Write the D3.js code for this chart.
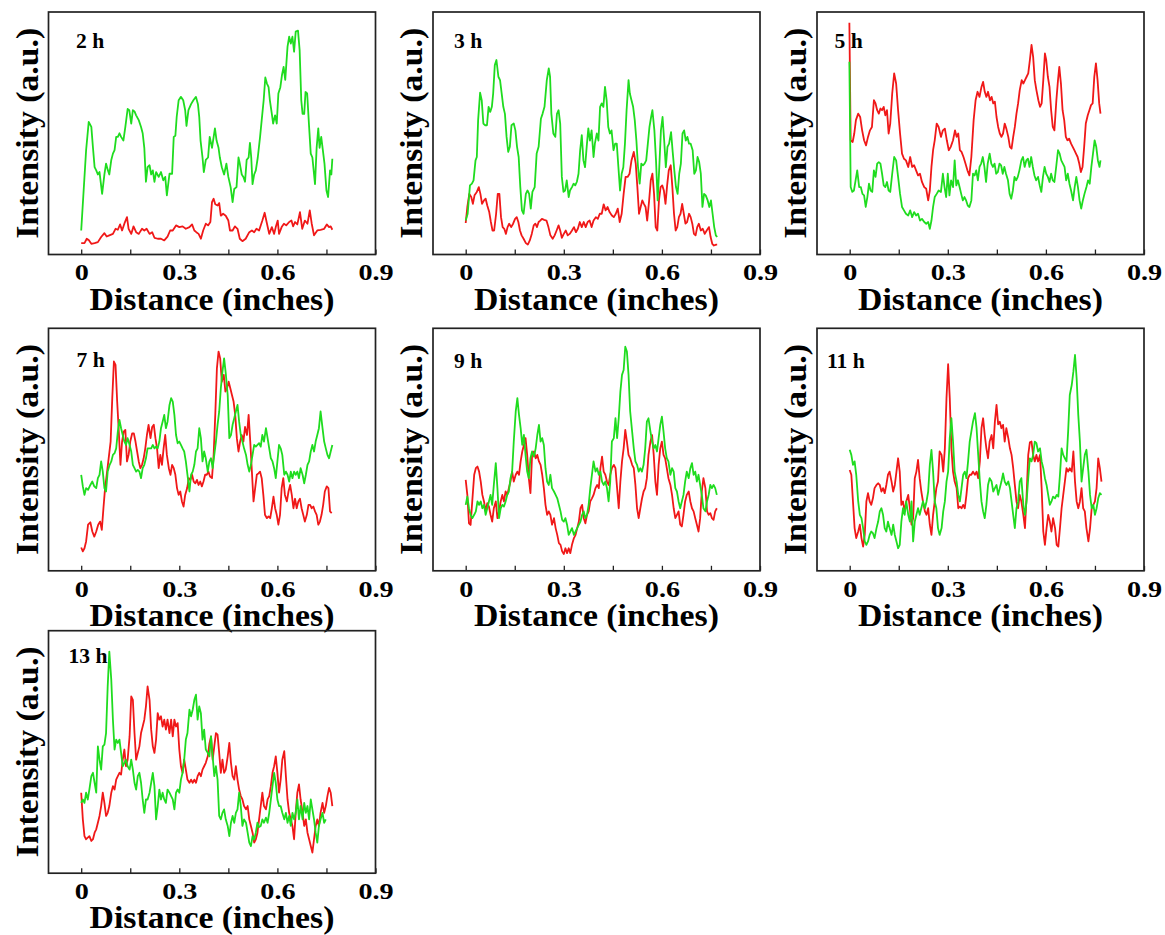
<!DOCTYPE html>
<html><head><meta charset="utf-8">
<script src="https://cdn.jsdelivr.net/npm/d3@7"></script>
<style>
html,body{margin:0;padding:0;background:#fff;}
svg text{font-family:"Liberation Serif","Times New Roman",serif;font-weight:bold;fill:#000;}
</style></head><body>
<svg id="chart" width="1165" height="935"></svg>
<script>
// Line-scan intensity profiles along the sample (distance in inches, intensity in a.u.)
const panelLabels = ["2 h", "3 h", "5 h", "7 h", "9 h", "11 h", "13 h"];
const xTickValues = [0, 0.3, 0.6, 0.9];
const xTickLabels = ["0", "0.3", "0.6", "0.9"];
const xMinorTicks = [0.15, 0.45, 0.75];
const xTitle = "Distance (inches)";
const yTitle = "Intensity (a.u.)";

const green2h = [[0,9.9],[.015,43],[.023,54.7],[.031,52.6],[.036,44],[.041,36],[.046,34.7],[.051,33],[.056,34],[.064,25],[.071,33],[.076,37.5],[.081,35],[.086,33],[.092,39],[.097,41.6],[.102,43],[.107,48.5],[.112,48.5],[.117,50],[.122,48.5],[.129,47],[.135,52.6],[.142,60],[.147,59.5],[.153,54],[.158,59.5],[.163,59],[.168,57.4],[.176,55.4],[.183,52.6],[.188,50],[.193,44],[.198,30],[.203,36],[.209,36.8],[.214,33],[.219,34.7],[.224,30],[.229,34],[.237,32],[.244,34],[.251,30.6],[.257,32],[.262,24.4],[.27,33.3],[.278,33.3],[.283,48.5],[.288,49],[.292,56.7],[.298,63.6],[.305,65],[.312,63.6],[.318,59.5],[.322,53],[.328,59.5],[.336,62],[.343,63.6],[.351,65],[.357,62],[.361,56.7],[.365,47],[.371,40],[.375,34],[.381,39],[.388,40],[.393,48.5],[.4,44],[.409,52],[.414,47],[.42,44],[.424,40],[.43,36],[.437,33],[.444,37.5],[.45,32],[.457,27.8],[.463,21.6],[.468,27],[.475,27.8],[.481,40],[.485,37.5],[.491,33],[.496,32],[.501,30],[.506,39],[.512,40],[.516,46],[.52,40],[.524,29],[.529,33],[.534,34.7],[.54,40],[.547,48.5],[.552,55.4],[.558,63.6],[.563,73],[.568,70.5],[.573,69],[.577,63.6],[.583,58],[.587,54],[.593,57.4],[.598,54],[.603,66.4],[.609,69],[.614,74],[.619,77.4],[.624,72],[.631,85.7],[.636,89.8],[.641,87],[.646,89.8],[.651,83.6],[.656,91.9],[.663,92.3],[.668,84.3],[.673,63.6],[.677,58],[.682,58],[.686,67],[.691,66.4],[.697,52.6],[.702,41.6],[.707,40],[.715,29],[.72,44],[.725,52],[.729,44],[.734,48.5],[.739,43],[.744,37.5],[.75,26.4],[.755,23.7],[.761,34.7],[.765,33],[.768,39.5]];
const red2h = [[0,4.7],[.01,4.7],[.017,6.5],[.023,6],[.031,4.4],[.041,4.7],[.051,5.1],[.061,7.2],[.071,8.8],[.078,7.4],[.086,7.9],[.097,8.5],[.105,10.6],[.112,10.2],[.119,12.4],[.125,9.9],[.132,12.7],[.14,15.4],[.145,10.6],[.153,8.5],[.16,11.6],[.168,9.2],[.176,8.5],[.186,10.6],[.193,9.9],[.2,10.6],[.209,8.5],[.217,9.2],[.224,6.9],[.234,6.5],[.244,6.5],[.254,5.8],[.264,7.4],[.272,9.9],[.28,9.9],[.29,12],[.3,11.3],[.31,11.6],[.32,10.6],[.331,11.3],[.339,12.4],[.346,9.9],[.352,9.2],[.359,8.5],[.366,6.5],[.373,9.9],[.381,12.7],[.388,12],[.395,13.4],[.4,21.6],[.405,23],[.41,20.7],[.417,20.2],[.422,21.2],[.427,16],[.434,16.8],[.442,16],[.45,14],[.455,9.9],[.463,9.9],[.47,11.6],[.478,10.6],[.485,6.5],[.493,5.5],[.503,6.5],[.514,9.2],[.522,9.9],[.529,9.2],[.536,10.6],[.544,9.9],[.554,14],[.561,17.2],[.567,13.4],[.575,8.5],[.583,11.3],[.59,8.5],[.595,11.3],[.601,14],[.605,8.5],[.613,11.3],[.62,12.7],[.627,12],[.636,13.4],[.643,14],[.648,11.6],[.654,13.4],[.661,12.4],[.669,17.5],[.676,10.6],[.684,14],[.692,12.7],[.699,18.2],[.705,12.7],[.712,7.9],[.722,9.9],[.732,10.2],[.743,10.6],[.751,12.4],[.758,11.3],[.763,11.6],[.768,10.2]];

const green3h = [[0,14],[.006,16.8],[.013,28.5],[.019,29.2],[.024,30.6],[.03,38.8],[.034,40.2],[.038,55.4],[.044,66.7],[.049,63.6],[.054,54],[.059,53.3],[.065,53.3],[.07,60.9],[.075,58.8],[.08,60.9],[.084,66.4],[.089,78.1],[.094,80.2],[.1,73.3],[.105,71.9],[.11,66.4],[.115,60.9],[.12,58],[.125,48.5],[.13,42.3],[.135,44.4],[.14,53.3],[.147,54],[.152,51.2],[.157,44.4],[.162,40.2],[.167,27.8],[.172,18.2],[.177,16.8],[.184,25],[.189,26.4],[.194,25],[.199,18.9],[.204,25.8],[.211,27.8],[.217,41.6],[.223,44.4],[.23,56],[.235,58],[.241,60.9],[.248,71.9],[.254,76.7],[.258,73.3],[.262,58],[.268,49.9],[.274,48.5],[.279,58],[.284,59.5],[.289,54],[.294,32],[.299,25.8],[.304,26.4],[.309,30.6],[.315,23.7],[.319,26.4],[.325,27.8],[.33,29.2],[.335,28.5],[.34,30],[.345,33.3],[.35,43],[.355,49.2],[.36,38.8],[.365,36],[.37,44.4],[.375,52],[.38,47],[.385,51.2],[.391,40.2],[.395,45.7],[.401,49.9],[.406,47],[.411,60.9],[.416,62.3],[.421,60.9],[.426,69.1],[.431,63.6],[.436,52.6],[.441,49.9],[.446,51.2],[.452,43],[.457,45.7],[.462,45.7],[.467,36],[.472,26.4],[.477,33.3],[.482,36],[.487,45.7],[.492,59.5],[.498,71.9],[.502,66.4],[.507,63.6],[.512,60.9],[.517,55.4],[.522,47],[.527,36],[.532,29.2],[.537,37.5],[.542,36.8],[.547,37.5],[.552,38.8],[.557,45.7],[.562,52.6],[.567,56.7],[.571,59.5],[.577,51.2],[.582,38.8],[.587,22.3],[.592,36],[.597,51.2],[.602,56.7],[.607,47],[.612,36],[.617,44.4],[.622,45.7],[.628,50.5],[.633,42.3],[.638,34.7],[.643,27.8],[.648,25],[.653,33.3],[.658,37.5],[.663,49.9],[.668,51.2],[.673,47],[.678,48.5],[.683,45.7],[.688,45.7],[.694,43],[.699,33.3],[.704,34.7],[.709,40.2],[.714,38.1],[.719,33.3],[.724,19.6],[.729,25],[.734,24.4],[.74,22.3],[.745,19.6],[.75,22.3],[.755,16.8],[.76,11.3],[.765,7.9],[.769,7.2]];
const red3h = [[0,13],[.005,19.6],[.011,25],[.017,23.7],[.022,20.9],[.027,24.4],[.034,25.8],[.04,27.8],[.045,25],[.05,20.9],[.056,22.3],[.061,23],[.066,20.2],[.072,17.5],[.077,13.4],[.082,9.9],[.087,9.9],[.093,16.8],[.098,25],[.103,25],[.108,15.4],[.113,11.3],[.118,10.6],[.123,8.5],[.128,11.3],[.133,12.7],[.139,11.3],[.145,12.7],[.151,14.7],[.156,15.4],[.161,13.4],[.166,9.9],[.171,7.9],[.177,6.5],[.184,4.7],[.19,4.1],[.196,5.8],[.202,8.5],[.208,12],[.213,12.7],[.218,11.3],[.223,13.4],[.228,14],[.233,14.7],[.24,14.3],[.247,14],[.253,11.3],[.259,7.9],[.266,6.5],[.272,7.9],[.278,9.9],[.284,12],[.289,9.9],[.294,6.9],[.3,8.5],[.306,9.9],[.312,7.9],[.318,8.5],[.325,9.9],[.331,11.3],[.337,9.2],[.343,10.6],[.349,13.4],[.355,11.3],[.361,13.4],[.367,11.3],[.373,13.4],[.379,14],[.385,11.3],[.391,14],[.398,15.4],[.404,14.7],[.41,16.8],[.416,16.8],[.422,20.7],[.428,18.2],[.434,19.6],[.44,17.5],[.447,16.1],[.453,15.4],[.459,16.8],[.465,18.9],[.471,13.4],[.477,16.8],[.483,25],[.489,32],[.495,32],[.501,33.3],[.507,38.8],[.514,42.3],[.52,37.5],[.525,27.8],[.53,16.8],[.535,19.6],[.54,22.3],[.545,20.9],[.55,19.6],[.555,14],[.561,22.3],[.566,30.6],[.571,33.3],[.576,25],[.581,11.3],[.586,9.9],[.591,22.3],[.596,27.8],[.601,28.5],[.606,26.4],[.611,20.9],[.616,28.5],[.621,34.7],[.627,36.8],[.632,27.8],[.637,16.8],[.642,9.9],[.647,11.3],[.652,15.4],[.657,16.8],[.662,20.9],[.667,16.8],[.672,12.7],[.677,13.4],[.683,16.8],[.688,15.4],[.693,12.7],[.698,8.5],[.703,7.9],[.708,11.3],[.713,12.7],[.719,9.9],[.725,10.6],[.731,8.5],[.737,9.9],[.744,11.3],[.749,7.2],[.754,4.4],[.759,3.7],[.766,4.1],[.769,4.1]];

const green5h = [[-.001,79.5],[.003,27.8],[.008,25.8],[.013,26.4],[.018,30.6],[.023,34.7],[.029,27.8],[.034,27.8],[.039,25],[.044,24.4],[.049,19.6],[.054,23.7],[.059,29.2],[.064,26.4],[.069,25.8],[.074,34.7],[.079,32],[.084,37.5],[.089,38.1],[.094,37.5],[.099,33.3],[.104,28.5],[.109,27.8],[.114,29.9],[.119,26.4],[.124,25.8],[.13,33.3],[.136,40.2],[.142,38.8],[.148,32],[.154,25],[.16,19.6],[.166,18.2],[.172,16.8],[.179,16.1],[.185,18.2],[.191,15.4],[.197,17.5],[.203,16.1],[.209,16.8],[.215,14],[.221,14.7],[.228,13.4],[.234,12.7],[.24,13.4],[.245,10.6],[.25,14],[.255,19.6],[.26,23.7],[.266,25],[.272,26.4],[.279,25.8],[.285,33.3],[.29,27.8],[.295,23.7],[.3,33.3],[.305,24.4],[.31,30.6],[.316,27.8],[.321,38.8],[.326,28.5],[.331,30.6],[.336,27.8],[.341,25],[.346,22.3],[.351,23.7],[.356,22.3],[.361,20.2],[.366,19.6],[.372,22.3],[.377,33.3],[.382,32.6],[.387,34.7],[.392,30.6],[.397,36.1],[.402,37.5],[.407,40.2],[.412,36.1],[.417,29.9],[.422,37.5],[.428,41.6],[.433,37.5],[.438,36.1],[.443,37.5],[.448,33.3],[.453,34],[.458,37.5],[.463,36.8],[.468,33.3],[.473,36.1],[.478,33.3],[.484,30.6],[.489,25],[.494,23],[.499,26.4],[.504,32],[.509,30.6],[.514,32],[.519,34.7],[.525,38.8],[.53,40.2],[.535,36.1],[.54,38.8],[.545,39.5],[.55,36.1],[.555,40.2],[.56,36.1],[.565,32.6],[.57,30.6],[.576,32],[.581,28.5],[.586,25.8],[.591,32],[.596,36.1],[.601,33.3],[.606,32],[.611,29.9],[.616,33.3],[.621,30.6],[.626,29.9],[.632,36.8],[.637,43],[.642,41.6],[.647,38.8],[.652,37.5],[.657,36.1],[.662,30.6],[.667,33.3],[.672,29.2],[.677,26.4],[.683,22.3],[.688,27.8],[.693,32],[.698,27.8],[.703,22.3],[.708,18.9],[.713,22.3],[.718,25],[.724,27.8],[.729,30.6],[.734,29.2],[.739,36.1],[.744,41.6],[.749,47.1],[.754,44.4],[.759,38.8],[.764,36.1],[.767,38.8]];
const red5h = [[-.001,95.6],[.003,47.1],[.009,46.4],[.014,49.9],[.019,55.4],[.026,58.1],[.032,56.7],[.038,51.2],[.044,47.1],[.05,45],[.056,48.5],[.062,51.2],[.068,52.6],[.074,63.6],[.079,62.3],[.084,59.5],[.089,58.1],[.094,60.2],[.099,59.5],[.104,60.9],[.109,57.4],[.114,59.5],[.119,49.9],[.124,54],[.13,66.4],[.136,74.7],[.142,70.5],[.148,59.5],[.154,49.9],[.16,41.6],[.166,39.5],[.172,38.8],[.179,36.1],[.185,40.2],[.191,36.1],[.197,36.8],[.203,34.7],[.209,32.6],[.215,33.3],[.221,29.9],[.228,27.8],[.234,27.1],[.24,22.3],[.245,26.4],[.25,36.1],[.255,43],[.26,47.1],[.266,54],[.272,52.6],[.279,48.5],[.285,51.2],[.291,51.9],[.297,47.1],[.303,43],[.309,44.4],[.316,47.1],[.322,51.2],[.327,48.5],[.332,49.9],[.337,43],[.342,42.3],[.348,40.2],[.354,37.5],[.36,34.7],[.366,32.6],[.372,40.2],[.379,55.4],[.385,63.6],[.391,67.1],[.397,65],[.403,69.1],[.408,71.2],[.413,67.1],[.418,65],[.423,67.1],[.429,63.6],[.434,65],[.439,62.3],[.444,63],[.449,56.7],[.454,52.6],[.459,49.9],[.464,48.5],[.469,49.9],[.474,54],[.479,51.9],[.485,48.5],[.49,44.4],[.495,43.7],[.5,48.5],[.505,52.6],[.51,58.1],[.515,62.3],[.52,67.8],[.526,71.9],[.531,70.5],[.536,71.9],[.541,73.3],[.546,74.7],[.551,80.2],[.556,86.4],[.561,81.5],[.566,71.9],[.571,67.8],[.577,63.6],[.582,60.9],[.587,62.3],[.592,71.9],[.597,82.9],[.601,80.2],[.606,73.3],[.611,69.1],[.616,59.5],[.621,52.6],[.626,51.2],[.632,63.6],[.637,71.9],[.641,77.4],[.646,70.5],[.651,59.5],[.656,55.4],[.661,48.5],[.666,47.1],[.671,47.8],[.677,45.7],[.682,44.4],[.687,43],[.692,41.6],[.697,40.2],[.702,37.5],[.707,34],[.712,36.1],[.717,44.4],[.722,54],[.728,57.4],[.733,59.5],[.738,61.6],[.743,62.3],[.748,73.3],[.753,78.8],[.758,71.9],[.763,62.3],[.767,58.1]];

const red7h = [[0,9.6],[.005,8],[.01,9.3],[.015,12.1],[.021,19],[.028,20],[.034,16.2],[.04,14.1],[.046,16.2],[.052,19],[.058,20.3],[.063,16.9],[.068,25.8],[.073,34.1],[.078,39.6],[.084,46.4],[.09,53.3],[.095,71.2],[.1,86.3],[.105,84.9],[.11,69.8],[.115,57.4],[.12,43.7],[.125,53.3],[.13,57.4],[.135,58.1],[.14,45.1],[.145,47.8],[.15,53.3],[.156,56.7],[.161,56.7],[.166,53.3],[.171,49.2],[.176,45.1],[.181,42.3],[.186,43.7],[.191,46.4],[.196,50.5],[.201,56],[.206,60.2],[.212,54.7],[.217,59.3],[.222,60.2],[.227,54.7],[.232,50.5],[.237,42.3],[.242,47.8],[.247,43.7],[.252,50.5],[.257,56],[.262,47.8],[.268,42.3],[.273,39.6],[.278,43.7],[.283,42.3],[.288,39.6],[.293,34.1],[.298,31.3],[.303,32.7],[.308,28.6],[.313,26.5],[.318,31.3],[.324,34.1],[.329,38.2],[.334,37.5],[.339,39.6],[.344,36.8],[.349,36.1],[.354,37.5],[.359,35.4],[.364,36.8],[.369,34.8],[.374,36.8],[.379,39.6],[.384,39.6],[.389,40.9],[.394,38.9],[.4,38.2],[.405,47.8],[.41,64.3],[.415,83.5],[.42,90.4],[.425,87.6],[.43,78],[.436,80.8],[.441,73.9],[.446,75.3],[.451,78],[.456,75.3],[.461,72.5],[.466,69.8],[.471,64.3],[.476,54.7],[.481,49.2],[.486,53.3],[.491,56],[.496,53.3],[.501,59.3],[.507,56],[.512,64.3],[.517,53.3],[.522,40.9],[.527,28.6],[.532,34.1],[.537,39.6],[.542,40.2],[.547,40.9],[.552,38.2],[.557,31.3],[.562,23.1],[.568,21.7],[.573,22.4],[.578,21.7],[.583,25.8],[.588,30.6],[.593,25.8],[.598,23.1],[.603,19],[.608,23.1],[.613,34.1],[.618,38.2],[.623,31.3],[.629,28.6],[.634,32.7],[.639,35.4],[.644,31.3],[.649,25.8],[.654,29.7],[.659,25.8],[.664,28.6],[.669,29.7],[.674,25.8],[.679,23.1],[.684,20.3],[.69,23.1],[.695,27.2],[.7,27.2],[.705,25.8],[.71,26.5],[.715,24.5],[.72,23.1],[.725,19],[.73,20.3],[.735,23.1],[.74,27.2],[.745,32.7],[.751,34.8],[.756,34.1],[.761,24.5],[.766,23.8]];
const green7h = [[0,39.6],[.005,34.8],[.01,31.3],[.015,34.1],[.021,33.4],[.028,35.4],[.034,36.8],[.04,34.8],[.046,34.1],[.051,38.2],[.056,39.6],[.061,45.1],[.066,40.9],[.071,34.1],[.076,32.7],[.081,40.9],[.087,43.7],[.092,45.1],[.097,47.8],[.102,48.5],[.107,50.5],[.112,57.4],[.117,62.2],[.122,58.8],[.127,56],[.132,53.3],[.137,51.9],[.142,54.7],[.148,51.9],[.153,49.2],[.158,43.7],[.163,42.3],[.168,40.9],[.173,41.6],[.178,40.9],[.183,38.2],[.188,42.3],[.193,43.7],[.198,46.4],[.203,50.5],[.209,50.5],[.214,50.5],[.219,51.9],[.224,50.5],[.229,51.2],[.234,50.5],[.239,53.3],[.244,58.8],[.249,61.5],[.254,64.3],[.259,58.8],[.264,61.5],[.27,68.4],[.275,71.2],[.28,69.8],[.285,64.3],[.29,56],[.295,52.6],[.3,53.3],[.305,51.9],[.31,50.5],[.315,49.2],[.32,45.1],[.325,39.6],[.331,32.7],[.336,39.6],[.341,40.9],[.346,43.7],[.351,49.2],[.356,50.5],[.361,58.8],[.366,54.7],[.371,45.1],[.376,49.2],[.381,46.4],[.387,40.9],[.392,45.1],[.397,46.4],[.402,42.3],[.407,47.8],[.412,53.3],[.417,60.2],[.422,65.7],[.427,75.3],[.432,82.1],[.437,87.6],[.442,81.5],[.448,72.5],[.453,54.7],[.458,56],[.463,60.2],[.468,62.9],[.473,65.7],[.478,68.4],[.483,61.5],[.488,56],[.493,53.3],[.498,50.5],[.504,47.8],[.509,43.7],[.514,40.9],[.519,43.7],[.524,47.8],[.529,51.9],[.534,51.2],[.539,51.9],[.544,52.6],[.549,51.2],[.554,56],[.559,53.3],[.565,58.8],[.57,54.7],[.575,50.5],[.58,46.4],[.585,45.1],[.59,42.3],[.595,38.2],[.6,45.1],[.605,51.9],[.61,50.5],[.615,47.8],[.621,39.6],[.626,40.9],[.631,39.6],[.636,36.8],[.641,40.9],[.646,38.2],[.651,40.9],[.656,39.6],[.661,40.9],[.666,38.2],[.671,42.3],[.677,39.6],[.682,36.1],[.687,39.6],[.692,43.7],[.697,45.1],[.702,49.2],[.707,51.9],[.712,49.2],[.717,53.3],[.722,56],[.727,58.8],[.732,65.7],[.738,58.8],[.743,53.3],[.748,50.5],[.753,47.8],[.758,46.4],[.763,49.2],[.768,51.9]];

const red9h = [[0,37.5],[.005,31.3],[.01,19.6],[.015,18.9],[.02,28.6],[.026,39.6],[.031,42.3],[.036,43],[.041,40.9],[.046,36.8],[.051,31.3],[.056,28.6],[.061,24.5],[.066,27.9],[.071,26.5],[.076,23.1],[.081,20.3],[.086,25.8],[.092,28.6],[.097,21.7],[.102,24.5],[.107,28.6],[.112,31.3],[.117,28.6],[.122,32.7],[.127,31.3],[.132,34.1],[.137,36.8],[.142,40.9],[.147,36.8],[.153,39.6],[.158,40.9],[.163,39.6],[.168,45.1],[.173,49.2],[.178,51.9],[.183,54.7],[.188,47.8],[.193,38.2],[.198,32],[.203,47.8],[.209,49.2],[.214,46.4],[.219,47.8],[.224,45.1],[.229,43.7],[.234,39.6],[.239,34.1],[.244,27.2],[.249,23.1],[.254,24.5],[.259,23.1],[.264,19],[.27,21.7],[.275,17.6],[.28,14.8],[.285,11.4],[.29,10.7],[.295,8],[.3,6.9],[.305,9.3],[.31,7.3],[.315,9.3],[.32,7.3],[.325,10.7],[.331,13.5],[.336,14.8],[.341,17.6],[.346,20.3],[.351,25.8],[.356,27.2],[.361,21.7],[.366,19.6],[.371,23.1],[.376,24.5],[.381,28.6],[.386,29.9],[.391,31.3],[.397,34.1],[.402,35.4],[.407,34.1],[.412,42.3],[.417,47.1],[.422,40.9],[.427,39.6],[.432,36.8],[.437,35.4],[.442,39.6],[.447,42.3],[.453,43.7],[.458,42.3],[.463,34.1],[.468,25.8],[.473,36.8],[.478,45.1],[.483,50.5],[.488,58.1],[.493,53.3],[.498,47.8],[.503,46.4],[.509,43.7],[.514,42.3],[.519,35.4],[.524,25.8],[.529,21.7],[.534,25.8],[.539,29.7],[.544,32.7],[.549,34.1],[.554,38.2],[.559,47.8],[.565,53.3],[.57,56],[.575,47.8],[.58,36.8],[.585,31.3],[.59,43.7],[.595,50.5],[.6,53.3],[.605,47.8],[.61,46.4],[.615,42.3],[.62,38.2],[.626,35.4],[.631,31.3],[.636,25.8],[.641,21.7],[.646,23.1],[.651,24.5],[.656,19],[.661,18.3],[.666,23.1],[.671,28.6],[.676,31.3],[.682,32.7],[.687,28.6],[.692,25.8],[.697,24.5],[.702,21.7],[.707,19],[.712,16.2],[.717,21.7],[.722,32.7],[.727,38.2],[.733,34.1],[.738,24.5],[.743,23.1],[.748,23.8],[.753,21.7],[.758,21],[.763,24.5],[.768,25.8]];
const green9h = [[0,27.2],[.005,30.6],[.01,25.8],[.015,23.1],[.02,21.7],[.026,23.1],[.031,24.5],[.036,28.6],[.041,27.2],[.046,28.6],[.051,25.8],[.056,27.2],[.061,23.1],[.066,25.8],[.071,28.6],[.076,31.3],[.081,27.2],[.086,35.4],[.092,44.4],[.097,34.1],[.102,21.7],[.107,25.8],[.112,27.2],[.117,26.5],[.122,28.6],[.127,31.3],[.132,32.7],[.137,38.2],[.142,40.9],[.147,53.3],[.153,65.7],[.158,71.2],[.163,64.3],[.168,58.8],[.173,51.9],[.178,56],[.183,47.8],[.188,40.9],[.193,38.2],[.198,46.4],[.203,49.2],[.209,47.1],[.214,50.5],[.219,56],[.224,60.2],[.229,53.3],[.234,54.7],[.239,51.9],[.244,42.3],[.249,36.8],[.254,35.4],[.259,39.6],[.264,34.1],[.27,32.7],[.275,31.3],[.28,29.9],[.285,27.2],[.29,24.5],[.295,21],[.3,20.3],[.305,21.7],[.31,19],[.315,14.8],[.32,16.2],[.325,17.6],[.331,14.8],[.336,16.2],[.341,17.6],[.346,19],[.351,20.3],[.356,23.1],[.361,24.5],[.366,21.7],[.371,23.1],[.376,27.2],[.381,34.1],[.386,39.6],[.391,45.1],[.397,40.9],[.402,42.3],[.407,39.6],[.412,40.9],[.417,36.8],[.422,35.4],[.427,36.8],[.432,34.1],[.437,28.6],[.442,36.8],[.447,53.3],[.453,54.7],[.458,62.9],[.463,54.7],[.468,62.9],[.473,73.9],[.478,80.8],[.483,82.8],[.488,92.4],[.493,90.4],[.498,80.8],[.503,65.7],[.509,57.4],[.514,50.5],[.519,45.1],[.524,43.7],[.529,40.9],[.534,42.3],[.539,40.9],[.544,43.7],[.549,50.5],[.554,61.5],[.559,62.9],[.565,57.4],[.57,53.3],[.575,50.5],[.58,51.9],[.585,49.2],[.59,54.7],[.595,60.2],[.6,63.6],[.605,57.4],[.61,50.5],[.615,46.4],[.62,45.1],[.626,39.6],[.631,42.3],[.636,40.9],[.641,34.1],[.646,32.7],[.651,28.6],[.656,25.8],[.661,28.6],[.666,31.3],[.671,36.8],[.676,40.9],[.682,38.2],[.687,42.3],[.692,44.4],[.697,39.6],[.702,40.9],[.707,36.8],[.712,39.6],[.717,35.4],[.722,31.3],[.727,25.8],[.733,24.5],[.738,28.6],[.743,31.3],[.748,35.4],[.753,34.1],[.758,35.4],[.763,34.1],[.768,31.3]];

const red11h = [[0,41.6],[.005,39.6],[.01,28.6],[.015,17.6],[.02,13.5],[.026,16.2],[.031,19],[.036,13.5],[.041,10],[.046,14.8],[.051,28.6],[.056,32],[.061,28.6],[.066,27.2],[.071,29.9],[.076,34.1],[.082,35.4],[.087,36.1],[.092,35.4],[.097,32.7],[.102,34.1],[.107,32],[.112,35.4],[.117,39.6],[.122,40.9],[.128,36.8],[.133,32.7],[.138,35.4],[.143,40.9],[.148,46.4],[.153,40.9],[.158,27.2],[.163,28.6],[.168,24.5],[.173,28.6],[.179,31.3],[.184,25.8],[.189,19],[.194,21.7],[.199,38.2],[.204,40.9],[.209,45.7],[.214,38.2],[.219,32.7],[.224,28.6],[.23,24.5],[.235,23.1],[.24,25.8],[.245,19],[.25,14.8],[.255,23.1],[.26,28.6],[.265,34.1],[.27,36.8],[.275,49.2],[.281,47.8],[.286,40.9],[.291,50.5],[.296,71.2],[.301,85.2],[.306,71.2],[.311,50.5],[.316,40.9],[.321,36.8],[.327,34.1],[.332,25.8],[.337,26.5],[.342,25.8],[.347,27.2],[.352,25.8],[.357,31.3],[.362,38.2],[.367,39.6],[.372,39.6],[.377,40.9],[.383,39.6],[.388,40.9],[.393,38.2],[.398,45.1],[.403,58.8],[.408,62.9],[.413,56],[.418,50.5],[.423,46.4],[.428,53.3],[.434,56],[.439,50.5],[.444,61.5],[.449,68.4],[.454,60.4],[.459,61.5],[.464,58.8],[.469,60.2],[.474,53.3],[.479,58.8],[.485,54.7],[.49,50.5],[.495,47.8],[.5,42.3],[.505,35.4],[.51,28.6],[.515,25.8],[.52,31.3],[.525,28.6],[.531,23.1],[.536,17.6],[.541,31.3],[.546,47.8],[.551,53],[.556,53.3],[.561,47.8],[.566,45.1],[.571,47.8],[.576,45.1],[.582,47.8],[.587,34.1],[.592,16.2],[.597,10.7],[.602,17.6],[.607,23.1],[.612,20.3],[.617,16.2],[.622,21.7],[.628,17.6],[.633,10.7],[.638,10],[.643,17.6],[.648,25.8],[.653,31.3],[.658,36.8],[.663,42.3],[.668,40.9],[.673,42.3],[.679,40.9],[.684,49.2],[.689,36.8],[.694,28.6],[.699,25.8],[.704,28.6],[.709,34.1],[.714,25.8],[.719,24.5],[.724,17.6],[.73,12.1],[.735,17.6],[.74,25.8],[.745,27.2],[.75,28.6],[.755,34.1],[.76,46.4],[.765,42.3],[.77,36.8]];
const green11h = [[0,49.9],[.005,47.8],[.01,43.7],[.015,45.1],[.02,39.6],[.026,28.6],[.031,23.1],[.036,21.7],[.041,17.6],[.046,12.1],[.051,10.7],[.056,12.1],[.061,14.8],[.066,16.2],[.071,15.5],[.076,13.5],[.082,17.6],[.087,20.3],[.092,24.5],[.097,25.8],[.102,23.1],[.107,17.6],[.112,16.2],[.117,20.3],[.122,17.6],[.128,14.8],[.133,19],[.138,14.8],[.143,12.1],[.148,9.3],[.153,10.7],[.158,20.3],[.163,25.8],[.168,23.1],[.173,28.6],[.179,23.1],[.184,20.3],[.189,28.6],[.194,12.1],[.199,20.3],[.204,23.1],[.209,25.8],[.214,23.1],[.219,25.8],[.224,28.6],[.23,25.8],[.235,28.6],[.24,32.7],[.245,43.7],[.25,49.9],[.255,40.9],[.26,28.6],[.265,25.8],[.27,17.6],[.275,14.8],[.281,17.6],[.286,24.5],[.291,28.6],[.296,36.8],[.301,40.9],[.306,54.7],[.311,62.9],[.316,53.3],[.321,40.9],[.327,36.8],[.332,31.3],[.337,28.6],[.342,34.1],[.347,39.6],[.352,40.9],[.357,38.2],[.362,45.1],[.367,53.3],[.372,57.4],[.377,61.5],[.383,65],[.388,58.8],[.393,47.8],[.398,36.8],[.403,28.6],[.408,24.5],[.413,21.7],[.418,27.2],[.423,35.4],[.428,38.2],[.434,36.8],[.439,32.7],[.444,34.1],[.449,35.4],[.454,31.3],[.459,34.1],[.464,36.8],[.469,40.2],[.474,36.8],[.479,35.4],[.485,36.8],[.49,34.1],[.495,28.6],[.5,23.1],[.505,17.6],[.51,25.8],[.515,28.6],[.52,36.8],[.525,38.2],[.531,27.2],[.536,23.1],[.541,28.6],[.546,38.2],[.551,46.4],[.556,45.1],[.561,47.8],[.566,53.3],[.571,52.6],[.576,49.2],[.582,50.5],[.587,45.1],[.592,42.3],[.597,38.2],[.602,35.4],[.607,31.3],[.612,27.2],[.617,28.6],[.622,30.6],[.628,29.9],[.633,31.3],[.638,30.6],[.643,39.6],[.648,50.5],[.653,47.8],[.658,46.4],[.663,45.1],[.668,57.4],[.673,72.5],[.679,76.6],[.684,82.1],[.689,89],[.694,79.4],[.699,64.3],[.704,53.3],[.709,36.8],[.714,42.3],[.719,47.8],[.724,49.9],[.73,40.9],[.735,31.3],[.74,25.8],[.745,27.2],[.75,23.1],[.755,25.8],[.76,29.9],[.765,32],[.77,31.3]];

const green13h = [[0,29],[.005,30.4],[.01,29],[.015,33.2],[.02,30.4],[.025,34.5],[.031,40],[.036,41.4],[.041,37.3],[.046,33.2],[.051,52.3],[.056,46.8],[.061,42.7],[.066,52.3],[.071,53],[.076,57.8],[.081,77],[.086,91.4],[.092,79.7],[.097,63.3],[.102,51],[.107,55.1],[.112,53.7],[.117,55.1],[.122,49.6],[.127,44.1],[.132,45.5],[.137,46.8],[.142,44.1],[.148,42.7],[.153,46.8],[.158,42.7],[.163,37.3],[.168,34.5],[.173,40],[.178,41.4],[.183,37.3],[.188,30.4],[.193,24.9],[.198,30.4],[.203,30.4],[.209,33.2],[.214,37.3],[.219,41.4],[.224,35.9],[.229,22.2],[.234,27.7],[.239,34.5],[.244,30.4],[.249,33.2],[.254,30.4],[.259,29],[.264,34.5],[.27,33.2],[.275,31.8],[.28,30.4],[.285,26.3],[.29,33.2],[.295,34.5],[.3,33.2],[.305,38.6],[.31,41.4],[.315,46.8],[.32,55.1],[.325,57.8],[.331,67.4],[.336,64.7],[.341,67.4],[.346,71.5],[.351,73.6],[.356,63.3],[.361,68.8],[.366,66],[.371,55.1],[.376,59.2],[.381,51],[.387,49.6],[.392,48.2],[.397,56.4],[.402,48.2],[.407,40],[.412,44.1],[.417,38.6],[.422,23.6],[.427,22.2],[.432,24.9],[.437,26.3],[.442,22.2],[.448,19.5],[.453,15.3],[.458,20.8],[.463,23.6],[.468,20.8],[.473,24.9],[.478,26.3],[.483,33.2],[.488,27.7],[.493,19.5],[.498,22.2],[.504,20.8],[.509,16.7],[.514,12.6],[.519,11.2],[.524,15.3],[.529,13.9],[.534,16.7],[.539,20.8],[.544,19],[.549,19.5],[.554,22.2],[.559,20.8],[.565,22.9],[.57,20.8],[.575,24.9],[.58,30.4],[.585,35.9],[.59,41.4],[.595,37.3],[.6,30.4],[.605,27.7],[.61,27.7],[.615,24.9],[.621,22.2],[.626,24.9],[.631,20.8],[.636,23.6],[.641,19.5],[.646,24.9],[.651,22.2],[.656,24.9],[.661,30.4],[.666,22.2],[.671,27.7],[.677,22.2],[.682,29],[.687,24.9],[.692,27.7],[.697,22.2],[.702,30.4],[.707,26.3],[.712,22.2],[.717,16.7],[.722,12.6],[.727,19.5],[.732,22.2],[.738,24.9],[.743,20.8],[.748,22.2]];
const red13h = [[0,33.2],[.005,22.2],[.01,15.3],[.015,14],[.02,14.7],[.025,15.3],[.031,13.3],[.036,14],[.041,16.7],[.046,18.1],[.051,20.8],[.056,23.6],[.061,27.7],[.066,33.2],[.071,29],[.076,23.6],[.081,24.9],[.086,27.7],[.092,33.2],[.097,35.9],[.102,34.5],[.107,38.6],[.112,40],[.117,41.4],[.122,40.7],[.127,46.8],[.132,51],[.137,44.1],[.142,46.8],[.148,56.4],[.153,72.9],[.158,71.5],[.163,57.8],[.168,46.8],[.173,49.6],[.178,52.3],[.183,57.8],[.188,60.5],[.193,63.3],[.198,68.8],[.203,77],[.209,71.5],[.214,59.2],[.219,52.3],[.224,49.6],[.229,55.1],[.234,66],[.239,63.3],[.244,64.7],[.249,60.5],[.254,63.3],[.259,59.2],[.264,63.3],[.27,57.8],[.275,63.3],[.28,56.4],[.285,63.3],[.29,60.5],[.295,61.9],[.3,51],[.305,44.1],[.31,41.4],[.315,46.8],[.32,42.7],[.325,38.6],[.331,37.3],[.336,38.6],[.341,37.3],[.346,38.6],[.351,37.3],[.356,40],[.361,41.4],[.366,40],[.371,42.7],[.376,44.1],[.381,45.5],[.387,48.2],[.392,53.4],[.397,56.4],[.402,46.8],[.407,52.3],[.412,57.8],[.417,57.1],[.422,49.6],[.427,41.4],[.432,46.8],[.437,41.4],[.442,42.7],[.448,48.2],[.453,53.7],[.458,45.5],[.463,40],[.468,38.6],[.473,44.1],[.478,38.6],[.483,34.5],[.488,31.8],[.493,30.4],[.498,27.7],[.504,26.3],[.509,27.7],[.514,22.2],[.519,19.5],[.524,16.7],[.529,12.6],[.534,14],[.539,16.7],[.544,22.2],[.549,27.7],[.554,33.2],[.559,27.7],[.565,26.3],[.57,30.4],[.575,31.8],[.58,35.9],[.585,41.4],[.59,44.1],[.595,48.2],[.6,41.4],[.605,33.2],[.61,38.6],[.615,46.8],[.621,50.3],[.626,40],[.631,30.4],[.636,24.9],[.641,22.2],[.646,19.5],[.651,14],[.656,24.9],[.661,33.2],[.666,36.6],[.671,30.4],[.677,24.9],[.682,19.5],[.687,22.2],[.692,16.7],[.697,14],[.702,11.2],[.707,8.5],[.712,14],[.717,19.5],[.722,22.2],[.727,19.5],[.732,24.9],[.738,29],[.743,24.9],[.748,27.7],[.753,31.8],[.758,35.2],[.763,33.2],[.768,27.7]];

const greenSeries = [green2h, green3h, green5h, green7h, green9h, green11h, green13h];
const redSeries = [red2h, red3h, red5h, red7h, red9h, red11h, red13h];

// Grid layout of the seven panels
const W = 327, H = 242.5;
const colLeft = [48.5, 433, 817];
const rowTop = [12, 328.3, 630.7];
const cells = [[0,0],[0,1],[0,2],[1,0],[1,1],[1,2],[2,0]];
const labelOffset = [[27.5,36],[21,36],[17.6,36],[28,38.5],[21,39.5],[10,39.5],[20,32]];

const svg = d3.select("#chart");
const x = d3.scaleLinear().domain([-0.1, 0.9]).range([0, W]);
const y = d3.scaleLinear().domain([0, 100]).range([H, 0]);
const line = d3.line().x(d => x(d[0])).y(d => y(d[1]));

panelLabels.forEach((lab, i) => {
  const [r, c] = cells[i];
  const g = svg.append("g").attr("transform", `translate(${colLeft[c]},${rowTop[r]})`);

  // profiles: red first, green drawn over it
  g.append("path").datum(redSeries[i]).attr("d", line)
    .attr("fill", "none").attr("stroke", "#f01818").attr("stroke-width", 1.8).attr("stroke-linejoin", "round");
  g.append("path").datum(greenSeries[i]).attr("d", line)
    .attr("fill", "none").attr("stroke", "#1fdc1f").attr("stroke-width", 1.8).attr("stroke-linejoin", "round");

  // bottom axis: major ticks with labels, minor ticks between
  const ax = g.append("g").attr("transform", `translate(0,${H})`)
    .call(d3.axisBottom(x).tickValues(xTickValues).tickFormat((d, k) => xTickLabels[k]).tickSizeInner(-5).tickSizeOuter(0));
  ax.select(".domain").remove();
  ax.selectAll("line").attr("stroke", "#222").attr("stroke-width", 1.3);
  ax.selectAll("text").attr("y", 26).attr("dy", null)
    .attr("transform", "scale(1.2,1)")
    .style("font-size", "23.5px").style("font-family", "'Liberation Serif','Times New Roman',serif")
    .style("font-weight", "bold").attr("fill", "#000");
  const mx = g.append("g").attr("transform", `translate(0,${H})`)
    .call(d3.axisBottom(x).tickValues(xMinorTicks).tickFormat("").tickSizeInner(-5).tickSizeOuter(0));
  mx.select(".domain").remove();
  mx.selectAll("line").attr("stroke", "#222").attr("stroke-width", 1.3);

  // frame
  g.append("rect").attr("x", 0).attr("y", 0).attr("width", W).attr("height", H)
    .attr("fill", "none").attr("stroke", "#222").attr("stroke-width", 1.7);

  // panel time label
  g.append("text").attr("transform", `translate(${labelOffset[i][0]},${labelOffset[i][1]}) scale(1.08,1)`)
    .style("font-size", "20px").text(lab);

  // axis titles
  g.append("text").attr("text-anchor", "middle")
    .attr("transform", `translate(${W / 2},${H + 55}) scale(1.09,1)`)
    .style("font-size", "31px").text(xTitle);
  g.append("text").attr("text-anchor", "middle")
    .attr("transform", `translate(-11,${H / 2}) rotate(-90) scale(1.09,1)`)
    .style("font-size", "31px").text(yTitle);
});
</script>
</body></html>
